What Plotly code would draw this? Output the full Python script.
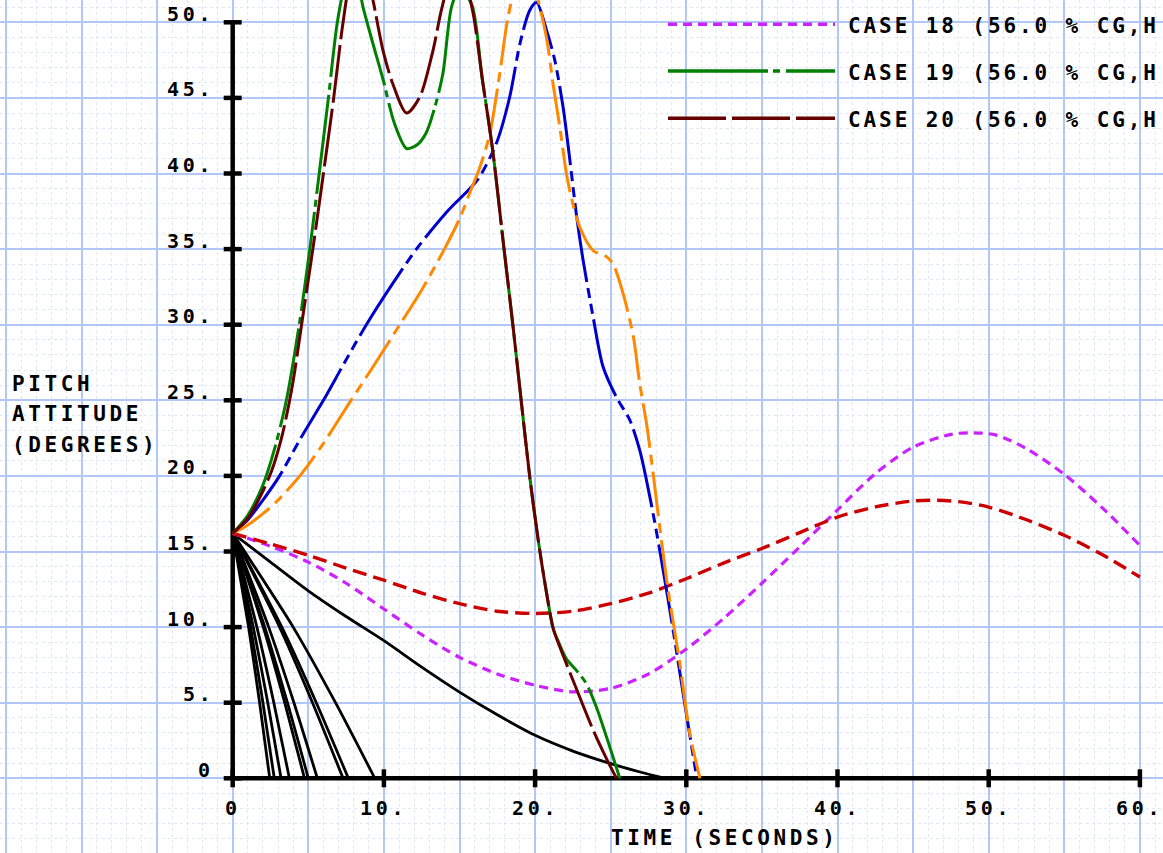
import plotly.graph_objects as go

# ---------------- data ----------------
# CASE 18 (violet short dashes)
T_C18 = [0, 2.5, 5, 7.5, 10, 12.5, 15, 17.5, 20, 22.5, 25, 27.5, 30, 32.5, 35, 37.5,
         40, 42.5, 45, 47.5, 49, 50.5, 52.5, 55, 57.5, 60]
Y_C18 = [16.2, 15.35, 14.3, 12.9, 11.2, 9.5, 8.0, 6.9, 6.15, 5.72, 5.95, 6.9, 8.55, 10.6,
         12.9, 15.3, 17.75, 20.15, 21.9, 22.75, 22.85, 22.7, 21.8, 20.1, 17.9, 15.4]

# red dashed case
T_RED = [0, 2.5, 5, 7.5, 10, 12.5, 15, 17.5, 20, 22.5, 25, 27.5, 30, 32.5, 35, 37.5,
         40, 42.5, 45, 46.5, 48, 50, 52.5, 55, 57.5, 60]
Y_RED = [16.2, 15.5, 14.75, 13.9, 13.1, 12.25, 11.55, 11.05, 10.9, 11.05, 11.55, 12.25,
         13.2, 14.25, 15.2, 16.25, 17.28, 17.95, 18.34, 18.39, 18.3, 17.94, 17.1, 16.07,
         14.8, 13.31]

# CASE 19 (green long dash - short dash)
T_C19 = [0, 1, 2, 2.8, 3.55, 4.4, 5.1, 5.72, 6.33, 6.92, 7.4, 7.9, 8.3, 8.62, 9.3, 9.95,
         10.7, 11.5, 12.2, 12.8, 13.4, 13.9, 14.47, 15.0, 15.8, 16.5, 17.2, 17.9, 18.55,
         19.1, 19.65, 20.2, 20.7, 21.2, 21.6, 22.07, 22.73, 23.39, 24.05, 24.94, 25.6]
Y_C19 = [16.2, 17.4, 19.4, 21.9, 25, 30, 35, 40, 45, 50, 52.3, 53.0, 52.5, 51.0, 48.5,
         46.2, 43.3, 41.65, 41.9, 42.7, 44.5, 46.6, 51.0, 52.2, 51.2, 46.3, 41.5, 35.4,
         29.8, 24.8, 19.9, 15.8, 12.6, 9.9, 8.9, 7.9, 7.14, 6.26, 4.72, 2.07, 0]

# CASE 20 (maroon long dashes)
T_C20 = [0, 1, 2, 2.6, 3.3, 3.95, 4.6, 5.3, 6.0, 6.68, 7.3, 7.8, 8.4, 9.0, 9.28, 9.95,
         10.6, 11.5, 12.37, 13.25, 13.8, 14.3, 14.9, 15.4, 15.9, 16.5, 17.2, 17.9, 18.55,
         19.1, 19.65, 20.2, 20.7, 21.2, 21.63, 22.5, 23.84, 24.72, 25.38]
Y_C20 = [16.2, 17.2, 19.0, 20.4, 22.8, 26, 30.3, 35, 40, 45, 50, 52.8, 53.6, 52.6, 51.45,
         48.1, 45.9, 44.0, 45.06, 48.15, 50.8, 52.5, 53.0, 52.5, 50.6, 46.3, 41.5, 35.4,
         29.8, 24.8, 19.9, 15.8, 12.6, 9.9, 8.7, 6.5, 3.19, 1.3, 0]

# blue case
T_BLUE = [0, 1, 2, 3.1, 4.5, 6, 7.4, 8.84, 10.5, 12.15, 14.2, 16.2, 17.44, 18.32, 19.0,
          19.65, 20.1, 20.75, 21.3, 21.85, 22.25, 22.73, 23.17, 23.84, 24.5, 25.38, 26.26,
          26.92, 27.37, 27.9, 28.36, 29.13, 30.0, 30.7]
Y_BLUE = [16.2, 17.1, 18.4, 20, 22.5, 25, 27.5, 30, 32.6, 35, 37.5, 39.6, 42, 45.06, 48.6,
          50.8, 51.3, 49.5, 47.5, 44.4, 41.3, 37.3, 34.3, 30.5, 27.2, 25.2, 23.7, 21.7,
          19.7, 17.0, 14.4, 9.8, 4.28, 0]

# orange case
T_ORANGE = [0, 1, 2, 3, 4.4, 5.9, 7.63, 9.4, 11.05, 12.5, 14.0, 15.0, 15.67, 16.34, 17.0,
            17.66, 18.21, 18.8, 19.4, 20.0, 20.75, 21.19, 21.63, 22.07, 22.4, 22.95, 23.84,
            24.72, 25.16, 25.82, 26.5, 26.92, 27.37, 27.8, 28.7, 29.57, 30.23, 30.9]
Y_ORANGE = [16.2, 16.75, 17.5, 18.4, 19.95, 22.0, 24.7, 27.4, 30, 32.3, 35, 37.0, 38.7, 40.4,
            42.6, 46.6, 50.35, 52.6, 53.2, 52.1, 49, 45.9, 43.1, 40, 38.4, 36.46, 34.9,
            34.5, 34.0, 32.06, 29.2, 26.1, 23.46, 20.2, 13.1, 7.6, 2.96, 0]

# black solid runs (steep ones share the pitch levels below)
Y_BLACK_STEEP = [16.2, 10.0, 5.0, 0.0]
T_BLACK_STEEP = [
    [0, 1.05, 1.78, 2.45],
    [0, 1.18, 2.0, 2.75],
    [0, 1.36, 2.32, 3.2],
    [0, 1.6, 2.72, 3.75],
    [0, 2.02, 3.44, 4.75],
    [0, 2.12, 3.62, 5.0],
    [0, 2.38, 4.05, 5.6],
    [0, 3.1, 5.28, 7.3],
    [0, 3.25, 5.53, 7.65],
    [0, 4.0, 6.8, 9.4],
]
T_BLACK_LONG = [0, 2.5, 5, 7.5, 10, 12.5, 15, 17.5, 20, 22.5, 25, 27, 28.6]
Y_BLACK_LONG = [16.2, 14.3, 12.4, 10.7, 9.1, 7.35, 5.7, 4.2, 2.84, 1.8, 0.97, 0.4, 0]

X_TICKS = [0, 10, 20, 30, 40, 50, 60]
X_TICK_LABELS = ["0", "10.", "20.", "30.", "40.", "50.", "60."]
Y_TICKS = [0, 5, 10, 15, 20, 25, 30, 35, 40, 45, 50]
Y_TICK_LABELS = ["0", "5.", "10.", "15.", "20.", "25.", "30.", "35.", "40.", "45.", "50."]
LEGEND_LABELS = ["CASE 18 (56.0 % CG,H", "CASE 19 (56.0 % CG,H", "CASE 20 (56.0 % CG,H"]
X_TITLE = "TIME (SECONDS)"
Y_TITLE_LINES = ["PITCH", "ATTITUDE", "(DEGREES)"]

# ---------------- styling / geometry ----------------
W, H = 1163, 853
PX = 15.12            # pixels per unit on both axes
X0_PX = 232.7         # pixel column of t = 0
Y0_PX = 778.3         # pixel row of pitch = 0

GRID = "#b0c7f7"
MINOR = "#e2e7f6"

C18 = dict(color="#cc22ff", dash="9px,6px")
CRED = dict(color="#cc0000", dash="14px,7px")
C19 = dict(color="#008000", dash="100px,5px,7px,6px")
C20 = dict(color="#660000", dash="58px,6px")
CBLUE = dict(color="#0000cc", dash="80px,6px,10px,6px,10px,6px")
CORANGE = dict(color="#ff8800", dash="45px,7px,10px,7px")

FONT_FAMILY = "DejaVu Sans Mono"
LBL_SIZE, LBL_LS = 21, 3.6
LEG_LS = 2.9
TICK_SIZE, TICK_LS = 20, 3.7


def spaced(text, ls):
    return f'<span style="letter-spacing:{ls}px">{text}</span>'


fig = go.Figure()


def add_line(t, y, color, dash, width=3.0, name=None, smoothing=0.8):
    fig.add_trace(go.Scatter(
        x=t, y=y, mode="lines", name=name, showlegend=False, hoverinfo="skip",
        line=dict(color=color, dash=dash, width=width, shape="spline", smoothing=smoothing),
    ))


for tt in T_BLACK_STEEP:
    add_line(tt, Y_BLACK_STEEP, "black", "solid", 2.8, "black run", 0.6)
add_line(T_BLACK_LONG, Y_BLACK_LONG, "black", "solid", 2.8, "black run")
add_line(T_C18, Y_C18, C18["color"], C18["dash"], 3.2, "CASE 18")
add_line(T_RED, Y_RED, CRED["color"], CRED["dash"], 3.4, "red case")
add_line(T_BLUE, Y_BLUE, CBLUE["color"], CBLUE["dash"], 3.0, "blue case")
add_line(T_ORANGE, Y_ORANGE, CORANGE["color"], CORANGE["dash"], 3.0, "orange case")
add_line(T_C19, Y_C19, C19["color"], C19["dash"], 3.0, "CASE 19")
add_line(T_C20, Y_C20, C20["color"], C20["dash"], 3.0, "CASE 20")

shapes = []
# axis lines
shapes.append(dict(type="line", xref="x", yref="y", x0=0, x1=0, y0=0, y1=max(Y_TICKS),
                   line=dict(color="black", width=4.5), layer="between"))
shapes.append(dict(type="line", xref="x", yref="y", x0=0, x1=max(X_TICKS), y0=0, y1=0,
                   line=dict(color="black", width=4.5), layer="between"))
# tick marks
for v in Y_TICKS:
    shapes.append(dict(type="line", xref="x", yref="y", xsizemode="pixel", xanchor=0,
                       x0=-9, x1=9, y0=v, y1=v, line=dict(color="black", width=4.5),
                       layer="between"))
for v in X_TICKS:
    shapes.append(dict(type="line", xref="x", yref="y", ysizemode="pixel", yanchor=0,
                       y0=-9, y1=9, x0=v, x1=v, line=dict(color="black", width=4.5),
                       layer="between"))

# legend samples (drawn manually: long samples at the top right)
LEG_X0, LEG_X1, LEG_TEXT_X = 668, 835, 849
LEG_LINE_Y = [24.3, 71.0, 118.3]
LEG_TEXT_Y = [25.8, 72.5, 119.2]
LEG_STYLES = [C18, C19, C20]
for ly, st in zip(LEG_LINE_Y, LEG_STYLES):
    shapes.append(dict(type="line", xref="paper", yref="paper",
                       x0=LEG_X0 / W, x1=LEG_X1 / W, y0=1 - ly / H, y1=1 - ly / H,
                       line=dict(color=st["color"], dash=st["dash"], width=3.5),
                       layer="above"))

annotations = []
tick_font = dict(family=FONT_FAMILY, size=TICK_SIZE, color="black", weight="bold")
lbl_font = dict(family=FONT_FAMILY, size=LBL_SIZE, color="black", weight="bold")

for v, lab in zip(Y_TICKS, Y_TICK_LABELS):
    annotations.append(dict(x=0, y=v, xref="x", yref="y", text=spaced(lab, TICK_LS),
                            showarrow=False, xanchor="right", yanchor="middle",
                            xshift=-19.0, yshift=8.5, font=tick_font,
                            borderpad=0, borderwidth=0))
for v, lab in zip(X_TICKS, X_TICK_LABELS):
    annotations.append(dict(x=v, y=0, xref="x", yref="y", text=spaced(lab, TICK_LS),
                            showarrow=False, xanchor="center", yanchor="middle",
                            xshift=0, yshift=-29.5, font=tick_font,
                            borderpad=0, borderwidth=0))

annotations.append(dict(x=609.5 / W, y=1 - 837.5 / H, xref="paper", yref="paper",
                        text=spaced(X_TITLE, LBL_LS), showarrow=False,
                        xanchor="left", yanchor="middle", font=lbl_font))
for line_txt, cy in zip(Y_TITLE_LINES, [383.5, 413.5, 444.5]):
    annotations.append(dict(x=10.0 / W, y=1 - cy / H, xref="paper", yref="paper",
                            text=spaced(line_txt, LBL_LS), showarrow=False,
                            xanchor="left", yanchor="middle", font=lbl_font))
for lab, cy in zip(LEGEND_LABELS, LEG_TEXT_Y):
    annotations.append(dict(x=(LEG_TEXT_X - 3.0) / W, y=1 - (cy + 0.4) / H, xref="paper",
                            yref="paper", text=spaced(lab, LEG_LS), showarrow=False,
                            xanchor="left", yanchor="middle", font=lbl_font))

axis_common = dict(
    tickmode="linear", tick0=0, dtick=5, showgrid=True, gridcolor=GRID, gridwidth=1.6,
    zeroline=False, showticklabels=False, ticks="", showline=False, fixedrange=True,
    minor=dict(dtick=1, tick0=0, showgrid=True, gridcolor=MINOR, griddash="dot",
               gridwidth=1),
)

fig.update_layout(
    width=W, height=H, margin=dict(l=0, r=0, t=0, b=0),
    paper_bgcolor="white", plot_bgcolor="white", showlegend=False,
    xaxis=dict(range=[-X0_PX / PX, (W - X0_PX) / PX], **axis_common),
    yaxis=dict(range=[-(H - Y0_PX) / PX, Y0_PX / PX], **axis_common),
    shapes=shapes, annotations=annotations,
)

fig.write_html("out.html")
